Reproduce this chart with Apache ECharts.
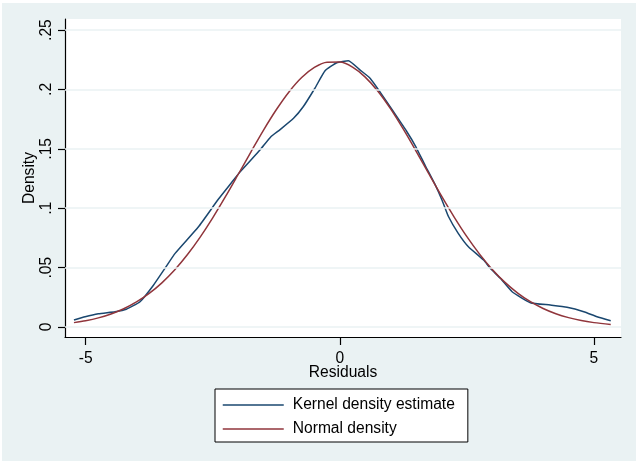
<!DOCTYPE html>
<html>
<head>
<meta charset="utf-8">
<script src="https://cdn.jsdelivr.net/npm/echarts@6/dist/echarts.min.js"></script>
<style>
html,body{margin:0;padding:0;background:#ffffff;width:636px;height:461px;overflow:hidden;}
#chart{position:absolute;left:2px;top:3px;width:634px;height:458px;}
</style>
</head>
<body>
<div id="chart"></div>
<script>
// Kernel density estimate: [residual, density]
const kernelDensity = [
  [-5.23, 0.0059], [-5.01, 0.0087], [-4.75, 0.0112], [-4.42, 0.0129], [-4.20, 0.0150],
  [-3.93, 0.0213], [-3.67, 0.0350], [-3.44, 0.0494], [-3.24, 0.0620], [-2.78, 0.0844],
  [-2.39, 0.1075], [-2.09, 0.1237], [-1.96, 0.1307], [-1.57, 0.1490], [-1.36, 0.1600],
  [-1.18, 0.1660], [-0.91, 0.1757], [-0.72, 0.1854], [-0.49, 0.2010], [-0.29, 0.2157],
  [-0.06, 0.2225], [0.17, 0.2242], [0.40, 0.2163], [0.60, 0.2093], [0.79, 0.1980],
  [1.06, 0.1810], [1.32, 0.1644], [1.48, 0.1530], [1.68, 0.1360], [1.88, 0.1195],
  [2.01, 0.1070], [2.14, 0.0928], [2.33, 0.0789], [2.53, 0.0676], [2.83, 0.0564],
  [2.96, 0.0494], [3.16, 0.0410], [3.39, 0.0297], [3.75, 0.0205], [4.14, 0.0185],
  [4.47, 0.0166], [4.80, 0.0129], [5.06, 0.0087], [5.33, 0.0053]
];
// Normal density: [residual, density]
const normalDensity = [
  [-5.23, 0.0037], [-5.00, 0.0053], [-4.75, 0.0077], [-4.50, 0.0110], [-4.25, 0.0154],
  [-4.00, 0.0211], [-3.75, 0.0283], [-3.50, 0.0372], [-3.25, 0.0480], [-3.00, 0.0608],
  [-2.75, 0.0755], [-2.50, 0.0919], [-2.25, 0.1097], [-2.00, 0.1284], [-1.75, 0.1473],
  [-1.50, 0.1658], [-1.25, 0.1829], [-1.00, 0.1979], [-0.75, 0.2100], [-0.50, 0.2185],
  [-0.25, 0.2229], [0.00, 0.2230], [0.25, 0.2188], [0.50, 0.2104], [0.75, 0.1985],
  [1.00, 0.1836], [1.25, 0.1665], [1.50, 0.1481], [1.75, 0.1291], [2.00, 0.1104],
  [2.25, 0.0926], [2.50, 0.0761], [2.75, 0.0614], [3.00, 0.0485], [3.25, 0.0376],
  [3.50, 0.0286], [3.75, 0.0213], [4.00, 0.0156], [4.25, 0.0112], [4.50, 0.0079],
  [4.75, 0.0054], [5.00, 0.0037], [5.33, 0.0021]
];
const xTicks = [-5, 0, 5];
const xTickLabels = ['-5', '0', '5'];
const yTicks = [0, 0.05, 0.1, 0.15, 0.2, 0.25];
const yTickLabels = ['0', '.05', '.1', '.15', '.2', '.25'];
const seriesNames = ['Kernel density estimate', 'Normal density'];
const axisNames = { x: 'Residuals', y: 'Density' };

const FONT = '"Liberation Sans", Arial, Helvetica, sans-serif';
const FS = 15.6;

const chart = echarts.init(document.getElementById('chart'), null, { renderer: 'canvas' });
chart.setOption({
  animation: false,
  backgroundColor: '#eaf2f3',
  textStyle: { fontFamily: FONT, color: '#000' },
  grid: {
    left: 63, top: 16, right: 15, bottom: 124,
    show: true, backgroundColor: '#ffffff', borderWidth: 0
  },
  xAxis: {
    type: 'value',
    min: -5.406, max: 5.532,
    name: axisNames.x,
    nameLocation: 'middle',
    nameGap: 28,
    nameMoveOverlap: false,
    nameTextStyle: { fontFamily: FONT, fontSize: FS, color: '#000' },
    axisLine: { show: true, onZero: false, lineStyle: { color: '#000', width: 1.2 } },
    axisTick: { show: true, inside: false, length: 8, customValues: xTicks, lineStyle: { color: '#000', width: 1.2 } },
    axisLabel: {
      show: true, margin: 14, customValues: xTicks,
      fontFamily: FONT, fontSize: FS, color: '#000',
      formatter: v => xTickLabels[xTicks.indexOf(v)] ?? ''
    },
    splitLine: { show: false }
  },
  yAxis: {
    type: 'value',
    min: -0.0084, max: 0.2593,
    name: axisNames.y,
    nameLocation: 'middle',
    nameGap: 27,
    nameMoveOverlap: false,
    nameRotate: 90,
    nameTextStyle: { fontFamily: FONT, fontSize: FS, color: '#000' },
    axisLine: { show: true, onZero: false, lineStyle: { color: '#000', width: 1.2 } },
    axisTick: { show: true, inside: false, length: 7, customValues: yTicks, lineStyle: { color: '#000', width: 1.2 } },
    axisLabel: {
      show: true, margin: 10, rotate: 90, customValues: yTicks,
      fontFamily: FONT, fontSize: FS, color: '#000',
      formatter: v => { const i = yTicks.findIndex(t => Math.abs(t - v) < 1e-9); return i >= 0 ? yTickLabels[i] : ''; }
    },
    splitLine: { show: false }
  },
  legend: {
    data: seriesNames,
    orient: 'vertical',
    left: 213, top: 386,
    padding: [8, 13, 5, 7],
    itemGap: 8,
    itemWidth: 61,
    itemHeight: 14,
    backgroundColor: '#ffffff',
    borderColor: '#000',
    borderWidth: 1,
    borderRadius: 0,
    itemStyle: { opacity: 0 },
    lineStyle: { width: 1.5, opacity: 1 },
    textStyle: { fontFamily: FONT, fontSize: FS, color: '#000', padding: [0, 0, 0, 4] }
  },
  series: [
    {
      name: 'grid',
      type: 'line',
      data: [],
      z: 1,
      silent: true,
      markLine: {
        silent: true,
        symbol: ['none', 'none'],
        label: { show: false },
        lineStyle: { color: '#eaf2f3', width: 1.5, type: 'solid' },
        data: yTicks.map(v => ({ yAxis: v }))
      }
    },
    {
      name: seriesNames[0],
      type: 'line',
      data: kernelDensity,
      symbol: 'none',
      showSymbol: false,
      smooth: 0.15,
      z: 3,
      lineStyle: { color: '#1a476f', width: 1.5 },
      itemStyle: { color: '#1a476f' }
    },
    {
      name: seriesNames[1],
      type: 'line',
      data: normalDensity,
      symbol: 'none',
      showSymbol: false,
      smooth: 0.3,
      z: 3,
      lineStyle: { color: '#90353b', width: 1.5 },
      itemStyle: { color: '#90353b' }
    }
  ]
});
</script>
</body>
</html>
